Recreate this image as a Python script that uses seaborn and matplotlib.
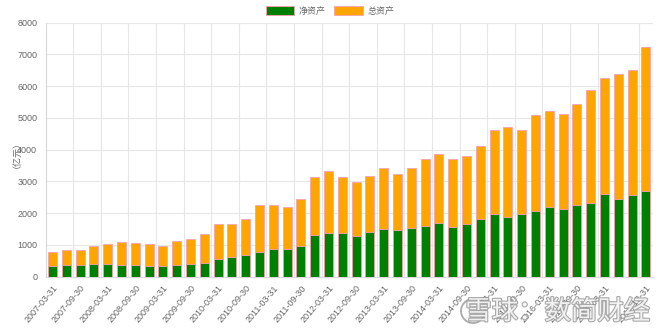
import matplotlib
matplotlib.use("Agg")
import matplotlib.pyplot as plt
import matplotlib.patheffects as pe
from matplotlib.patches import Patch, Ellipse
import pandas as pd
import seaborn as sns

# Quarterly report dates, 2007 Q1 .. 2017 Q4
quarters = [f"{y}-{md}" for y in range(2007, 2018)
            for md in ("03-31", "06-30", "09-30", "12-31")]

# 净资产 (亿元)
net_assets = [350, 380, 380, 400, 400, 380, 380, 350, 350, 380, 400, 420,
              565, 610, 680, 765, 860, 880, 955, 1300, 1385, 1385, 1280, 1405,
              1500, 1460, 1545, 1595, 1680, 1575, 1660, 1805, 1960, 1870, 1985, 2070,
              2205, 2140, 2250, 2320, 2605, 2435, 2560, 2690]

# 总资产 (亿元)
total_assets = [770, 830, 850, 965, 1020, 1080, 1060, 1040, 955, 1135, 1175, 1345,
                1670, 1670, 1805, 2250, 2270, 2195, 2435, 3150, 3330, 3130, 2990, 3160,
                3435, 3245, 3435, 3705, 3875, 3705, 3790, 4125, 4605, 4715, 4610, 5090,
                5230, 5135, 5440, 5890, 6255, 6375, 6520, 7225]

# Indices of the dates that get a visible label on the x axis
label_idx = list(range(0, 41, 2)) + [43]

df = pd.DataFrame({"报告期": quarters, "净资产": net_assets, "总资产": total_assets})

sns.set_theme(style="white")
plt.rcParams["font.family"] = ["Liberation Sans", "Noto Sans CJK SC"]

GREEN = "#008000"
ORANGE = "#ffa500"
EDGE = "#f5a3b0"
GRID = "#e6e6e6"
TEXT = "#666666"

fig = plt.figure(figsize=(6.6, 3.3), dpi=100)
ax = fig.add_axes([45.6 / 660, 1 - 276.7 / 330, (652.8 - 45.6) / 660, (276.7 - 22.7) / 330])

sns.barplot(data=df, x="报告期", y="总资产", color=ORANGE, saturation=1, width=0.65,
            edgecolor=EDGE, linewidth=0.6, ax=ax, zorder=2)
sns.barplot(data=df, x="报告期", y="净资产", color=GREEN, saturation=1, width=0.65,
            edgecolor=EDGE, linewidth=0.6, ax=ax, zorder=3)

n = len(quarters)
ax.set_xlim(-0.5, n - 0.5)
ax.set_ylim(0, 8000)
ax.set_yticks(range(0, 8001, 1000))
ax.set_xlabel("")
ax.set_ylabel("")

# Category labels centred on bars, grid lines on slot boundaries
ax.set_xticks(label_idx)
ax.set_xticklabels([quarters[i] for i in label_idx], rotation=50, ha="right",
                   rotation_mode="anchor", fontsize=6.5, color=TEXT)
bounds = [i - 0.5 for i in label_idx] + [n - 0.5]
ax.set_xticks(bounds, minor=True)
ax.tick_params(axis="x", which="major", length=0, pad=5)
ax.tick_params(axis="x", which="minor", length=4, color=GRID, width=0.8)
ax.tick_params(axis="y", length=4, color=GRID, width=0.8, labelsize=6.5,
               labelcolor=TEXT, pad=2)

ax.set_axisbelow(True)
ax.yaxis.grid(True, color=GRID, linewidth=0.8)
ax.xaxis.grid(True, which="minor", color=GRID, linewidth=0.8)
ax.xaxis.grid(False, which="major")
for side in ("top", "right"):
    ax.spines[side].set_visible(False)
for side in ("left", "bottom"):
    ax.spines[side].set_color("#d9d9d9")
    ax.spines[side].set_linewidth(0.8)

fig.text(12 / 660, 1 - 150 / 330, "（亿元）", rotation=90, ha="center", va="center",
         fontsize=6.5, color=TEXT)

handles = [Patch(facecolor=GREEN, edgecolor=EDGE, linewidth=0.6, label="净资产"),
           Patch(facecolor=ORANGE, edgecolor=EDGE, linewidth=0.6, label="总资产")]
fig.legend(handles=handles, loc="center", bbox_to_anchor=(0.5, 1 - 11 / 330), ncol=2,
           frameon=False, fontsize=6.5, labelcolor=TEXT, handlelength=3.2,
           handleheight=1.0, handletextpad=0.5, columnspacing=0.9)

# Site badge in the lower right corner
halo = [pe.withStroke(linewidth=1.6, foreground="#9a9a9a")]
badge = Ellipse((473 / 660, 1 - 311 / 330), 24 / 660, 24 / 330, transform=fig.transFigure,
                facecolor="white", edgecolor="#9a9a9a", linewidth=1.4, alpha=0.8)
fig.add_artist(badge)
fig.text(650 / 660, 1 - 312 / 330, "雪球：数简财经", ha="right", va="center",
         fontsize=19, color="white", alpha=0.85, path_effects=halo)

fig.savefig("out.png", dpi=100)
